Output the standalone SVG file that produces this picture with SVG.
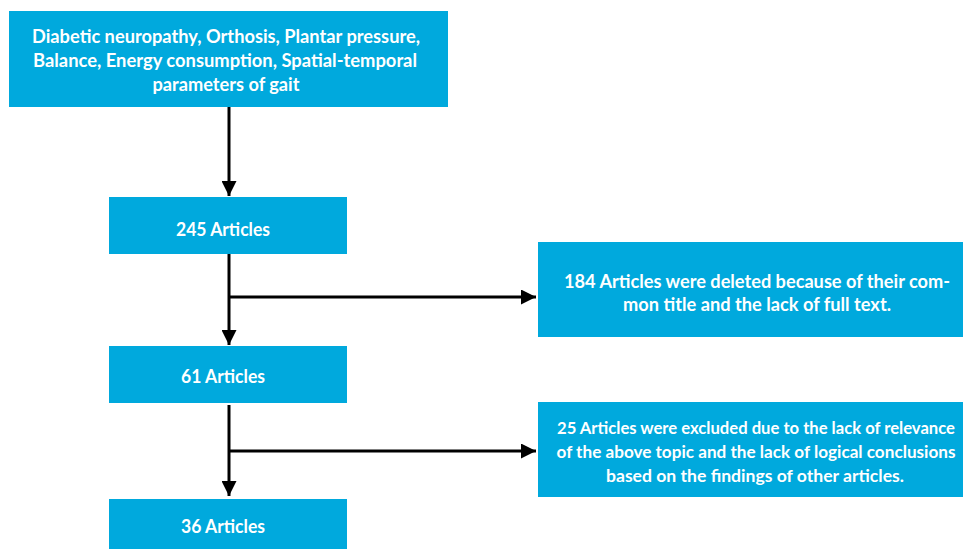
<svg xmlns="http://www.w3.org/2000/svg" width="965" height="550" viewBox="0 0 965 550">
<style>
.box{fill:#00A9DD}
.t{font-family:Lato,"Open Sans","Liberation Sans",sans-serif;font-weight:bold;font-size:18px;fill:#fff;text-anchor:middle}
.s{font-size:17px}
.ln{stroke:#000;stroke-width:3;fill:none}
</style>
<defs>
<marker id="ah" viewBox="0 0 10 10" refX="10" refY="5" markerWidth="5" markerHeight="5" markerUnits="strokeWidth" orient="auto">
<path d="M0,0 L10,5 L0,10 z" fill="#000"/>
</marker>
</defs>
<g id="n1"><rect class="box" x="9" y="11" width="439" height="96"/>
<text class="t" x="226" y="43" textLength="388" lengthAdjust="spacingAndGlyphs">Diabetic neuropathy, Orthosis, Plantar pressure,</text>
<text class="t" x="225" y="67" textLength="384" lengthAdjust="spacingAndGlyphs">Balance, Energy consumption, Spatial-temporal</text>
<text class="t" x="226" y="91" textLength="147" lengthAdjust="spacingAndGlyphs">parameters of gait</text></g>
<g id="n2"><rect class="box" x="109" y="197" width="238" height="57"/>
<text class="t" x="223" y="236" textLength="94" lengthAdjust="spacingAndGlyphs">245 Articles</text></g>
<g id="n3"><rect class="box" x="538" y="242" width="425" height="95"/>
<text class="t" x="757" y="288" textLength="386" lengthAdjust="spacingAndGlyphs">184 Articles were deleted because of their com-</text>
<text class="t" x="757" y="311" textLength="268" lengthAdjust="spacingAndGlyphs">mon title and the lack of full text.</text></g>
<g id="n4"><rect class="box" x="109" y="346" width="238" height="57"/>
<text class="t" x="223" y="383" textLength="84" lengthAdjust="spacingAndGlyphs">61 Articles</text></g>
<g id="n5"><rect class="box" x="538" y="402" width="425" height="95"/>
<text class="t s" x="756" y="434" textLength="398" lengthAdjust="spacingAndGlyphs">25 Articles were excluded due to the lack of relevance</text>
<text class="t s" x="756" y="458" textLength="399" lengthAdjust="spacingAndGlyphs">of the above topic and the lack of logical conclusions</text>
<text class="t s" x="755" y="482" textLength="298" lengthAdjust="spacingAndGlyphs">based on the findings of other articles.</text></g>
<g id="n6"><rect class="box" x="109" y="499" width="238" height="50"/>
<text class="t" x="223" y="533" textLength="84" lengthAdjust="spacingAndGlyphs">36 Articles</text></g>
<g id="connectors">
<line class="ln" x1="229" y1="107" x2="229" y2="196" marker-end="url(#ah)"/>
<line class="ln" x1="229" y1="254" x2="229" y2="345" marker-end="url(#ah)"/>
<line class="ln" x1="229" y1="297" x2="536" y2="297" marker-end="url(#ah)"/>
<line class="ln" x1="229" y1="405" x2="229" y2="496" marker-end="url(#ah)"/>
<line class="ln" x1="229" y1="451" x2="536" y2="451" marker-end="url(#ah)"/>
</g>
</svg>
